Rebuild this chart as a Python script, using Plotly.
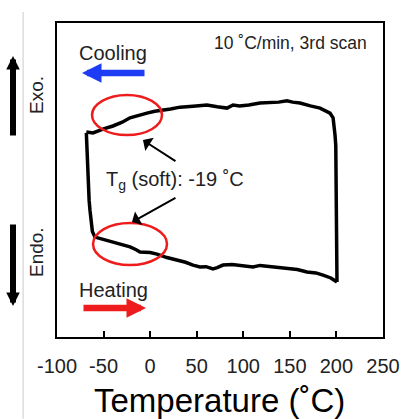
import plotly.graph_objects as go

# Heating scan (left vertical transient, then lower curve) -- temperature (°C), heat flow (a.u.)
heat_T = [-68.5, -68.0, -67.2, -66.4, -65.5, -64.6, -63.4, -62.0, -59.2, -52.0, -45.0, -39.9, -30.0,
          -21.6, -15.0, -10.9, 0.0, 7.4, 18.0, 28.8, 38.0, 46.0, 53.5, 60.0, 67.5, 72.0, 78.2, 88.0,
          96.5, 104.0, 110.4, 118.0, 125.4, 136.0, 146.9, 158.0, 168.4, 178.0, 185.6, 194.0, 200.6]
heat_Y = [65.0, 60.0, 54.0, 48.0, 43.5, 40.4, 36.5, 33.6, 31.8, 31.2, 30.6, 30.3, 29.4,
          28.7, 27.8, 27.1, 26.9, 26.4, 25.3, 24.5, 23.8, 22.9, 22.3, 22.4, 21.7, 22.1, 22.9, 23.1,
          22.9, 22.6, 22.3, 22.8, 22.6, 22.3, 22.0, 21.5, 20.7, 20.4, 19.7, 18.8, 17.5]

# Cooling scan (right vertical transient, then upper curve)
cool_T = [200.6, 200.4, 200.2, 200.0, 199.7, 199.3, 198.5, 196.4, 193.1, 188.0, 182.4, 172.0,
          160.9, 153.0, 146.9, 138.0, 127.0, 117.9, 106.0, 96.0, 89.0, 82.5, 72.0, 61.0, 46.0,
          32.1, 22.0, 13.8, 5.0, -3.4, -12.0, -21.6, -30.0, -39.9, -50.0, -61.3, -68.5]
cool_Y = [17.5, 25.0, 35.0, 45.0, 55.0, 61.0, 64.3, 69.8, 71.3, 72.0, 72.9, 73.6,
          74.5, 74.8, 75.2, 74.8, 74.6, 74.5, 73.9, 73.6, 73.9, 72.9, 73.3, 73.9, 73.5,
          73.2, 72.6, 72.3, 71.9, 71.3, 70.6, 69.8, 68.4, 67.2, 66.3, 65.0, 65.3]

x_ticks = [-100, -50, 0, 50, 100, 150, 200, 250]
x_tick_labels = ["-100", "-50", "0", "50", "100", "150", "200", "250"]

FONT = "Liberation Sans, Arial, sans-serif"
TXT = "#222222"

fig = go.Figure()
fig.add_trace(go.Scatter(x=heat_T, y=heat_Y, mode="lines",
                         line=dict(color="black", width=3.5), showlegend=False))
fig.add_trace(go.Scatter(x=cool_T, y=cool_Y, mode="lines",
                         line=dict(color="black", width=3.5), showlegend=False))

# red ellipses around the Tg regions
fig.add_shape(type="circle", xref="x", yref="y", x0=-62.4, x1=12.7, y0=64.3, y1=77.1,
              line=dict(color="#ee1c1c", width=2.5))
fig.add_shape(type="circle", xref="x", yref="y", x0=-61.3, x1=18.1, y0=22.9, y1=36.3,
              line=dict(color="#ee1c1c", width=2.5))

# gray separator line at the left
fig.add_shape(type="line", xref="paper", yref="paper", x0=-0.104, x1=-0.104, y0=-0.26, y1=1.035,
              line=dict(color="#cccccc", width=1))

ann = []
# Tg label and arrows
ann.append(dict(x=-7.7, y=62.7, xref="x", yref="y", ax=34, ay=22, text="", showarrow=True,
                arrowhead=1, arrowsize=1.3, arrowwidth=2, arrowcolor="black"))
ann.append(dict(x=-19.5, y=36.6, xref="x", yref="y", ax=45, ay=-25, text="", showarrow=True,
                arrowhead=1, arrowsize=1.3, arrowwidth=2, arrowcolor="black"))
ann.append(dict(x=(175 - 57) / 326, y=(337 - 180) / 314, xref="paper", yref="paper",
                text="T<sub>g</sub> (soft): -19 ˚C", showarrow=False,
                font=dict(family=FONT, size=20, color=TXT), xanchor="center", yanchor="middle"))
ann.append(dict(x=(290 - 57) / 326, y=(337 - 43) / 314, xref="paper", yref="paper",
                text="10 ˚C/min, 3rd scan", showarrow=False,
                font=dict(family=FONT, size=17.5, color=TXT), xanchor="center", yanchor="middle"))
# Cooling / Heating labels and arrows
ann.append(dict(x=(113 - 57) / 326, y=(337 - 53) / 314, xref="paper", yref="paper",
                text="Cooling", showarrow=False,
                font=dict(family=FONT, size=20, color=TXT), xanchor="center", yanchor="middle"))
ann.append(dict(x=(113 - 57) / 326, y=(337 - 290) / 314, xref="paper", yref="paper",
                text="Heating", showarrow=False,
                font=dict(family=FONT, size=20, color=TXT), xanchor="center", yanchor="middle"))
ann.append(dict(x=(82 - 57) / 326, y=(337 - 73) / 314, xref="paper", yref="paper",
                ax=64, ay=0, text="", showarrow=True, arrowhead=2, arrowsize=0.6,
                arrowwidth=6.5, arrowcolor="#1f3cf5"))
ann.append(dict(x=(146 - 57) / 326, y=(337 - 308) / 314, xref="paper", yref="paper",
                ax=-64, ay=0, text="", showarrow=True, arrowhead=2, arrowsize=0.6,
                arrowwidth=6.5, arrowcolor="#ee1c1c"))
# Exo / Endo
ann.append(dict(x=(37 - 57) / 326, y=(337 - 95) / 314, xref="paper", yref="paper",
                text="Exo.", textangle=-90, showarrow=False,
                font=dict(family=FONT, size=19, color=TXT), xanchor="center", yanchor="middle"))
ann.append(dict(x=(37 - 57) / 326, y=(337 - 252) / 314, xref="paper", yref="paper",
                text="Endo.", textangle=-90, showarrow=False,
                font=dict(family=FONT, size=19, color=TXT), xanchor="center", yanchor="middle"))
ann.append(dict(x=(13 - 57) / 326, y=(337 - 56) / 314, xref="paper", yref="paper",
                ax=0, ay=81, text="", showarrow=True, arrowhead=2, arrowsize=0.45,
                arrowwidth=6, arrowcolor="black"))
ann.append(dict(x=(13 - 57) / 326, y=(337 - 306) / 314, xref="paper", yref="paper",
                ax=0, ay=-83, text="", showarrow=True, arrowhead=2, arrowsize=0.45,
                arrowwidth=6, arrowcolor="black"))
# x-axis title
ann.append(dict(x=(219 - 57) / 326, y=(337 - 400) / 314, xref="paper", yref="paper",
                text="Temperature (˚C)", showarrow=False,
                font=dict(family=FONT, size=33, color="black"), xanchor="center", yanchor="middle"))

fig.update_layout(
    width=401, height=419,
    margin=dict(l=57, r=18, t=23, b=82, autoexpand=False),
    paper_bgcolor="white", plot_bgcolor="white",
    annotations=ann,
    xaxis=dict(range=[-100, 250], tickvals=x_ticks, ticktext=x_tick_labels,
               ticks="inside", ticklen=6, tickwidth=2, tickcolor="black",
               showline=True, linecolor="black", linewidth=2, mirror=True,
               showgrid=False, zeroline=False, ticklabelstandoff=10, automargin=False,
               tickfont=dict(family=FONT, size=20, color=TXT)),
    yaxis=dict(range=[0, 100], showticklabels=False, ticks="", automargin=False,
               showline=True, linecolor="black", linewidth=2, mirror=True,
               showgrid=False, zeroline=False),
)

fig.write_html("out.html", config={"displayModeBar": False},
               post_script="document.body.style.margin='0px';document.body.style.padding='0px';")
